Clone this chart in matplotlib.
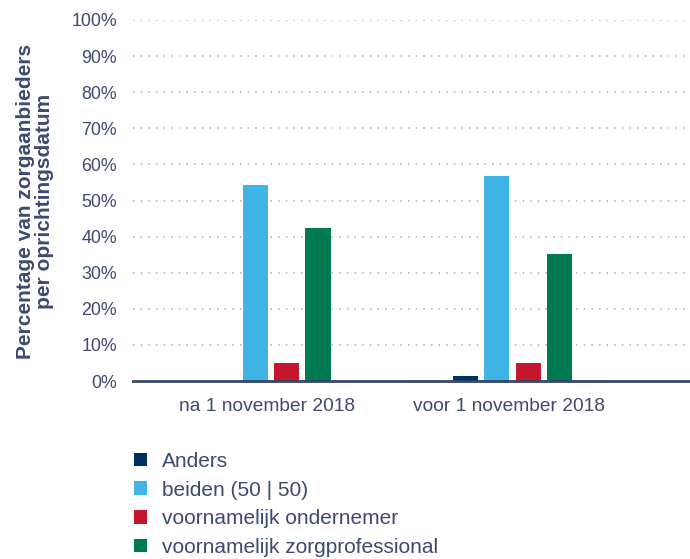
import numpy as np
import matplotlib
matplotlib.use("Agg")
import matplotlib.pyplot as plt
from matplotlib.patches import Patch

plt.rcParams['font.family'] = ['Liberation Sans', 'DejaVu Sans']

categories = ["na 1 november 2018", "voor 1 november 2018"]
series = ["Anders", "beiden (50 | 50)", "voornamelijk ondernemer", "voornamelijk zorgprofessional"]
anders = [0.0, 1.4]
beiden = [54.3, 56.8]
ondernemer = [5.0, 5.0]
zorgprof = [42.4, 35.2]
colors = ["#00305f", "#41b4e6", "#c4162f", "#007a52"]

text_col = "#3b4a6e"
grid_col = "#a9a9cc"

fig = plt.figure(figsize=(6.9, 5.59), dpi=100)
ax = fig.add_axes([133 / 690, 1 - 381 / 559, 1 - 133 / 690, (381 - 20) / 559])

x = np.arange(len(categories))
width = 0.104
pitch = 0.13
values = [anders, beiden, ondernemer, zorgprof]
for i, (vals, c) in enumerate(zip(values, colors)):
    ax.bar(x + (i - 1.5) * pitch, vals, width, color=c, zorder=3)

ax.set_xlim(-0.571, 1.735)
ax.set_ylim(0, 100)
ax.set_yticks(np.arange(0, 101, 10))
ax.set_yticklabels([f"{v}%" for v in range(0, 101, 10)])
ax.set_xticks(x - 0.015)
ax.set_xticklabels(categories)
ax.tick_params(axis='both', length=0, colors=text_col)
ax.tick_params(axis='x', labelsize=13.8, pad=12)
ax.tick_params(axis='y', labelsize=12.8, pad=11.5)

ax.yaxis.grid(True, linestyle=(0, (1, 4)), color=grid_col, linewidth=1.1, zorder=0)
for s in ['top', 'right', 'left']:
    ax.spines[s].set_visible(False)
ax.spines['bottom'].set_color("#34466b")
ax.spines['bottom'].set_linewidth(2)
ax.spines['bottom'].set_zorder(4)

fig.text(35 / 690, 1 - 201 / 559, "Percentage van zorgaanbieders\nper oprichtingsdatum",
         rotation=90, ha='center', va='center', multialignment='center',
         fontsize=15, fontweight='bold', color=text_col, linespacing=0.95)

handles = [Patch(facecolor=c, edgecolor='none') for c in colors]
fig.legend(handles, series, loc='upper left', bbox_to_anchor=(134 / 690, 1 - 452 / 559),
           frameon=False, fontsize=15, labelcolor=text_col, handlelength=0.63,
           handleheight=0.63, handletextpad=0.72, labelspacing=0.46, borderpad=0,
           borderaxespad=0)

fig.savefig("out.png", dpi=100)
